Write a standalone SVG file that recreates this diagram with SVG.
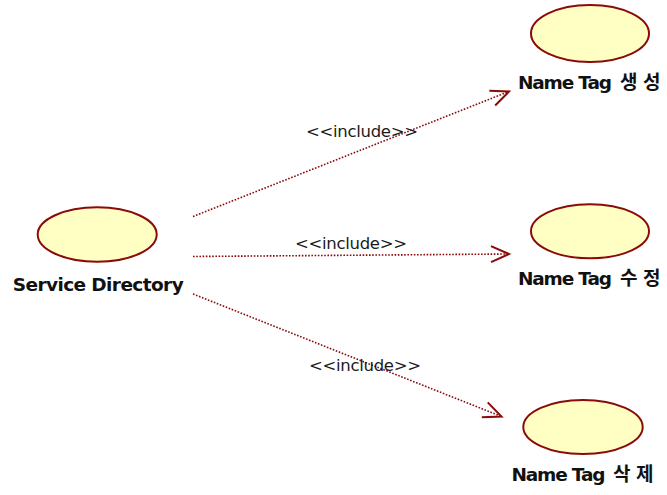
<svg xmlns="http://www.w3.org/2000/svg" width="667" height="495" viewBox="0 0 667 495">
  <style>
    .usecase { fill: #FFFFC4; stroke: #8B0A0A; stroke-width: 2; }
    .name { font-family: "DejaVu Sans", sans-serif; font-weight: bold; font-size: 18.5px; fill: #111; }
    .ko { font-family: "Noto Sans CJK KR", sans-serif; font-weight: bold; font-size: 19px; fill: #111; }
    .dep { fill: none; stroke: #8B0A0A; stroke-width: 1.6; stroke-dasharray: 1.6 1.6; }
    .stereo { font-family: "DejaVu Sans", sans-serif; font-size: 16.5px; fill: #1a1a1a; }
  </style>
  <defs>
    <marker id="open-arrow" markerUnits="userSpaceOnUse" markerWidth="24" markerHeight="22" refX="20" refY="11" orient="auto" overflow="visible">
      <path d="M2,3 L20,11 L2,19" fill="none" stroke="#8B0A0A" stroke-width="2"/>
    </marker>
  </defs>

  <rect width="667" height="495" fill="#FFFFFF"/>

  <!-- include dependencies -->
  <g id="connectors">
    <line class="dep" x1="193" y1="216.5" x2="509" y2="91.5" marker-end="url(#open-arrow)"/>
    <text class="stereo" x="306" y="137" textLength="112">&lt;&lt;include&gt;&gt;</text>
    <line class="dep" x1="193" y1="256.5" x2="509" y2="254" marker-end="url(#open-arrow)"/>
    <text class="stereo" x="295" y="249" textLength="112">&lt;&lt;include&gt;&gt;</text>
    <line class="dep" x1="193" y1="294" x2="501.5" y2="416.5" marker-end="url(#open-arrow)"/>
    <text class="stereo" x="309" y="370.5" textLength="112">&lt;&lt;include&gt;&gt;</text>
  </g>

  <g id="service-directory">
    <ellipse class="usecase" cx="97.2" cy="234.5" rx="59.5" ry="27.2"/>
    <text class="name" x="12.7" y="290.5" textLength="171">Service Directory</text>
  </g>

  <g id="name-tag-create">
    <ellipse class="usecase" cx="590" cy="33.5" rx="59" ry="28.5"/>
    <text class="name" x="518" y="89" textLength="94">Name Tag</text>
    <text class="ko" x="620" y="89">생</text>
    <text class="ko" x="643" y="89">성</text>
  </g>

  <g id="name-tag-update">
    <ellipse class="usecase" cx="590" cy="231.3" rx="59" ry="27"/>
    <text class="name" x="518" y="284.5" textLength="94">Name Tag</text>
    <text class="ko" x="620" y="284.5">수</text>
    <text class="ko" x="643" y="284.5">정</text>
  </g>

  <g id="name-tag-delete">
    <ellipse class="usecase" cx="583" cy="427" rx="59.7" ry="27"/>
    <text class="name" x="511.5" y="481" textLength="94">Name Tag</text>
    <text class="ko" x="613" y="481">삭</text>
    <text class="ko" x="636" y="481">제</text>
  </g>
</svg>
